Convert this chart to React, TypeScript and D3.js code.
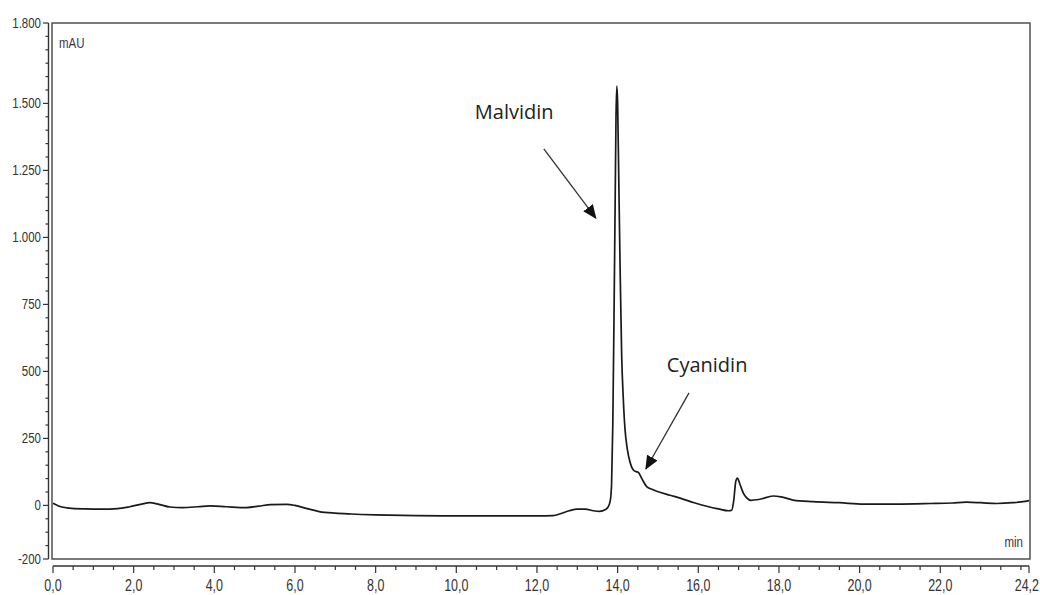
import React from 'react';
import * as d3 from 'd3';

// retention time (min) and absorbance (mAU)
const times = [
  0, 0.15, 0.4, 0.8, 1.2, 1.6, 1.9, 2.2, 2.4, 2.6, 2.9, 3.2, 3.6, 3.9, 4.3, 4.8, 5.1, 5.4, 5.8, 6.0,
  6.3, 6.6, 7.0, 7.4, 8.0, 9.0, 10.0, 11.0, 12.0, 12.4, 12.6, 12.8, 13.0, 13.2, 13.4, 13.55, 13.7, 13.76,
  13.82, 13.85, 13.88, 13.91, 13.94, 13.96, 13.98, 14.0, 14.03, 14.06, 14.1, 14.14, 14.18, 14.24, 14.31,
  14.39, 14.46, 14.51, 14.6, 14.72, 14.85, 14.97, 15.3, 15.55, 15.9, 16.21, 16.5, 16.75, 16.83, 16.88,
  16.93, 16.97, 17.03, 17.12, 17.2, 17.3, 17.5, 17.86, 18.05, 18.35, 18.85, 19.5, 20.1, 20.9, 21.75,
  22.3, 22.65, 23.0, 23.4, 23.8, 24.1, 24.2
];
const mau = [
  8, -3, -10, -13, -14, -12, -5, 5, 10, 5, -6, -8, -5, -2, -5, -8, -3, 3, 4, 0,
  -12, -23, -29, -32, -35, -38, -39, -39, -39, -38, -30, -20, -14, -14, -20, -22, -15, -7,
  20, 80, 300, 700, 1150, 1450, 1565, 1500, 1200, 900, 560, 400, 290, 210, 160,
  132, 126, 124, 100, 70, 60, 53, 38, 27, 10, -3, -13, -20, -18, 20,
  90, 102, 80, 45, 28, 19, 22, 35, 32, 20, 14, 10, 5, 5, 7,
  9, 12, 10, 7, 10, 15, 18
];

const yLabelValues = [1800, 1500, 1250, 1000, 750, 500, 250, 0, -200];
const xLabelValues = [0, 2, 4, 6, 8, 10, 12, 14, 16, 18, 20, 22, 24.2];

const peakNames = ['Malvidin', 'Cyanidin'];
const labelAt = [[10.46, 1442], [15.22, 498]];
const arrowFrom = [[12.17, 1330], [15.77, 420]];
const arrowTo = [[13.46, 1072], [14.7, 136]];

const W = 1040;
const H = 595;
const frame = { left: 52, right: 1030, top: 23, bottom: 559 };
const axisFont = '"Liberation Sans", Arial, sans-serif';

const locale = d3.formatLocale({ decimal: ',', thousands: '.', grouping: [3], currency: ['', ''], minus: '-' });
const fmtY = locale.format(',d');
const fmtX = locale.format('.1f');

// narrow axis lettering: squeeze the glyphs horizontally around the anchor point
const Narrow = ({ x, y, anchor = 'start', size, squeeze = 0.8, fill = '#333', children }: any) => (
  <text transform={`translate(${x},${y}) scale(${squeeze},1)`} textAnchor={anchor}
    fontFamily={axisFont} fontSize={size} fill={fill}>
    {children}
  </text>
);

export default function App() {
  const x = d3.scaleLinear().domain([0, 24.2]).range([53, 1029]);
  const y = d3.scaleLinear().domain([-200, 1800]).range([559, 23]);

  const points: [number, number][] = times.map((t, i) => [t, mau[i]]);
  const line = d3.line<[number, number]>()
    .x(d => x(d[0]))
    .y(d => y(d[1]))
    .curve(d3.curveMonotoneX);

  const yTicks = d3.range(-200, 1801, 50);
  const xTicks = d3.range(0, 24.01, 0.5).concat([24.2]);
  const axisY = 566;
  const axisX = 48.5;

  return (
    <svg width={W} height={H} style={{ position: 'absolute', left: 0, top: 0, background: '#fff' }}>
      <defs>
        <marker id="head" viewBox="0 0 14 12" refX="13" refY="6" markerWidth="14" markerHeight="12"
          markerUnits="userSpaceOnUse" orient="auto">
          <path d="M0,0 L14,6 L0,12 Z" fill="#111" />
        </marker>
      </defs>

      {/* plot frame */}
      <rect x={frame.left} y={frame.top} width={frame.right - frame.left} height={frame.bottom - frame.top}
        fill="none" stroke="#444" strokeWidth={1.4} />

      {/* y axis */}
      <line x1={axisX} x2={axisX} y1={y(1800)} y2={y(-200)} stroke="#333" strokeWidth={1.4} />
      {yTicks.map(v => {
        const major = yLabelValues.includes(v);
        return <line key={v} x1={axisX - (major ? 5.5 : 3)} x2={axisX} y1={y(v)} y2={y(v)} stroke="#333" strokeWidth={1.2} />;
      })}
      {yLabelValues.map(v => (
        <Narrow key={v} x={41} y={y(v) + 5} anchor="end" size={14} squeeze={0.82}>{fmtY(v)}</Narrow>
      ))}

      {/* x axis */}
      <line x1={x(0)} x2={x(24.2)} y1={axisY} y2={axisY} stroke="#333" strokeWidth={1.6} />
      {xTicks.map(t => {
        const major = xLabelValues.some(v => Math.abs(v - t) < 1e-6);
        return <line key={t} x1={x(t)} x2={x(t)} y1={axisY} y2={axisY + (major ? 7 : 4)} stroke="#333" strokeWidth={1.2} />;
      })}
      {xLabelValues.map((t, i) => {
        const last = i === xLabelValues.length - 1;
        return (
          <Narrow key={t} x={last ? W - 1 : x(t)} y={591} anchor={last ? 'end' : 'middle'} size={16} squeeze={0.78}>
            {fmtX(t)}
          </Narrow>
        );
      })}

      <Narrow x={59} y={48} size={14} squeeze={0.82} fill="#3a2f45">mAU</Narrow>
      <Narrow x={1023} y={547} anchor="end" size={14} squeeze={0.82} fill="#3a2f45">min</Narrow>

      {/* chromatogram trace */}
      <path d={line(points) ?? ''} fill="none" stroke="#1a1a1a" strokeWidth={1.7} strokeLinejoin="round" />

      {/* peak annotations */}
      {peakNames.map((name, i) => (
        <g key={name}>
          <text x={x(labelAt[i][0])} y={y(labelAt[i][1])} fontFamily='"Open Sans", Lato, sans-serif'
            fontSize={20} fill="#222">{name}</text>
          <line x1={x(arrowFrom[i][0])} y1={y(arrowFrom[i][1])} x2={x(arrowTo[i][0])} y2={y(arrowTo[i][1])}
            stroke="#333" strokeWidth={1.3} markerEnd="url(#head)" />
        </g>
      ))}
    </svg>
  );
}
